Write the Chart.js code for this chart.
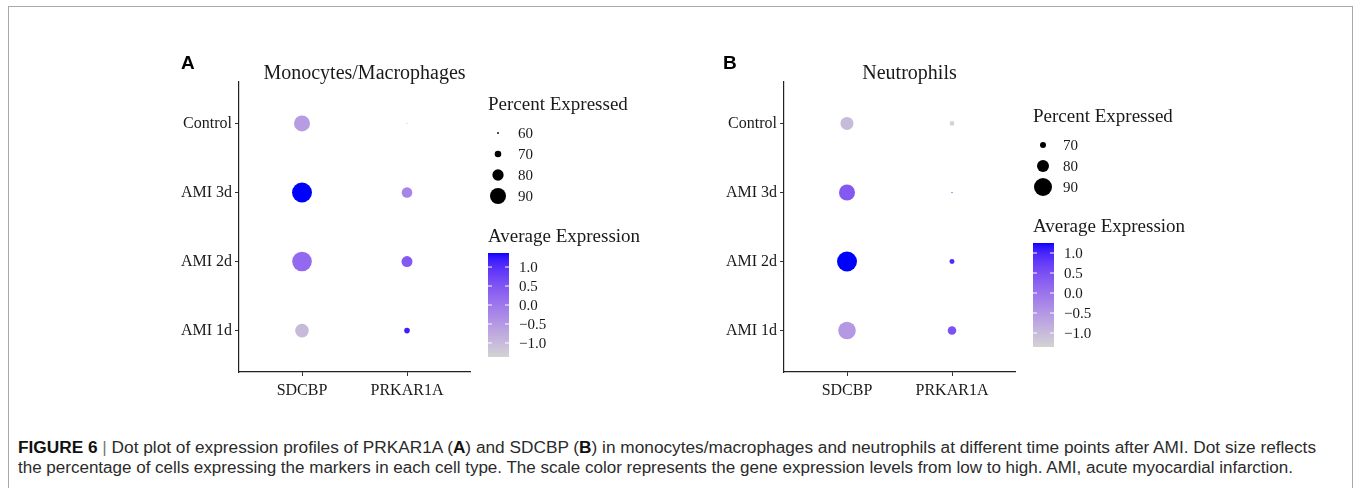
<!DOCTYPE html>
<html lang="en">
<head>
  <meta charset="UTF-8" />
  <title>Figure 6 - dot plots</title>
  <script src="https://cdn.jsdelivr.net/npm/chart.js"></script>
  <style>
    body {
      margin: 0;
      width: 1356px;
      height: 488px;
      position: relative;
      overflow: hidden;
      background: #fff;
      font-family: 'Liberation Serif', serif;
    }
    .frame {
      position: absolute;
      left: 8px; top: 6px;
      width: 1343px; height: 520px;
      border: 1px solid #a8a8a8;
    }
    .panel { position: absolute; top: 40px; width: 520px; height: 372px; }
    #panelA { left: 160px; }
    #panelB { left: 705px; }
    .caption {
      position: absolute;
      left: 18px;
      font-family: 'Liberation Sans Narrow', 'Liberation Sans', Arial, sans-serif;
      font-size: 16px;
      line-height: 20px;
      color: #2b2b2b;
      white-space: nowrap;
      transform-origin: 0 0;
    }
    #cap1 { top: 438px; }
    #cap2 { top: 458px; }
    .caption b { color: #111; }
    .sep { color: #777; }
  </style>
</head>
<body>
  <div class="frame"></div>
  <div class="panel" id="panelA"><canvas id="chartA"></canvas></div>
  <div class="panel" id="panelB"><canvas id="chartB"></canvas></div>
  <div class="caption" id="cap1"><b>FIGURE 6</b> <span class="sep">|</span> Dot plot of expression profiles of PRKAR1A (<b>A</b>) and SDCBP (<b>B</b>) in monocytes/macrophages and neutrophils at different time points after AMI. Dot size reflects</div>
  <div class="caption" id="cap2">the percentage of cells expressing the markers in each cell type. The scale color represents the gene expression levels from low to high. AMI, acute myocardial infarction.</div>

  <script>
    // groups listed top to bottom, genes left to right
    const groups = ['Control', 'AMI 3d', 'AMI 2d', 'AMI 1d']
    const genes = ['SDCBP', 'PRKAR1A']

    // Monocytes/Macrophages (percent expressed, scaled average expression)
    const monoPctSDCBP = [90, 98.5, 97.7, 85]
    const monoPctPRKAR1A = [59, 78.5, 79.4, 68]
    const monoExpSDCBP = [-0.55, 1.37, 0.19, -1.02]
    const monoExpPRKAR1A = [-1.37, -0.19, 0.44, 1.18]

    // Neutrophils
    const neutPctSDCBP = [81.7, 86.7, 93.3, 89.3]
    const neutPctPRKAR1A = [67.7, 62.7, 68.3, 74.3]
    const neutExpSDCBP = [-1.01, 0.37, 1.25, -0.52]
    const neutExpPRKAR1A = [-1.35, -0.06, 0.94, 0.47]

    const monoSizeBreaks = [60, 70, 80, 90]
    const neutSizeBreaks = [70, 80, 90]
    const colorBreaks = [1.0, 0.5, 0.0, -0.5, -1.0]

    const LOW = [211, 211, 211]   // lightgrey
    const HIGH = [0, 0, 255]      // blue

    // ggplot style gradient, interpolated in Lab space
    function toLin(c) { c /= 255; return c <= 0.04045 ? c / 12.92 : Math.pow((c + 0.055) / 1.055, 2.4) }
    function fromLin(c) {
      const v = c <= 0.0031308 ? 12.92 * c : 1.055 * Math.pow(c, 1 / 2.4) - 0.055
      return Math.round(Math.max(0, Math.min(1, v)) * 255)
    }
    function rgbToLab([r, g, b]) {
      const R = toLin(r), G = toLin(g), B = toLin(b)
      const x = (0.4124 * R + 0.3576 * G + 0.1805 * B) / 0.95047
      const y = 0.2126 * R + 0.7152 * G + 0.0722 * B
      const z = (0.0193 * R + 0.1192 * G + 0.9505 * B) / 1.08883
      const f = t => t > 0.008856 ? Math.cbrt(t) : 7.787 * t + 16 / 116
      const fx = f(x), fy = f(y), fz = f(z)
      return [116 * fy - 16, 500 * (fx - fy), 200 * (fy - fz)]
    }
    function labToRgb([L, a, b]) {
      const fy = (L + 16) / 116, fx = fy + a / 500, fz = fy - b / 200
      const fi = t => t > 0.206893 ? t * t * t : (t - 16 / 116) / 7.787
      const x = fi(fx) * 0.95047, y = fi(fy), z = fi(fz) * 1.08883
      return [
        fromLin(3.2406 * x - 1.5372 * y - 0.4986 * z),
        fromLin(-0.9689 * x + 1.8758 * y + 0.0415 * z),
        fromLin(0.0557 * x - 0.2040 * y + 1.0570 * z)
      ]
    }
    const labLow = rgbToLab(LOW), labHigh = rgbToLab(HIGH)
    function gradient(v, lo, hi) {
      const t = Math.max(0, Math.min(1, (v - lo) / (hi - lo)))
      if (t >= 1) return 'rgb(0,0,255)'
      const c = labToRgb(labLow.map((l, i) => l + (labHigh[i] - l) * t))
      return `rgb(${c[0]},${c[1]},${c[2]})`
    }

    const fmt = v => (v < 0 ? '\u2212' : '') + Math.abs(v).toFixed(1)

    const decorPlugin = {
      id: 'decor',
      afterDraw(chart, args, o) {
        const ctx = chart.ctx
        const area = chart.chartArea
        ctx.save()
        ctx.fillStyle = '#000'
        ctx.textBaseline = 'middle'

        ctx.font = 'bold 19px "Liberation Sans", Arial, sans-serif'
        ctx.textAlign = 'left'
        ctx.fillText(o.letter, o.letterX, 24)

        ctx.font = '20px "Liberation Serif", serif'
        ctx.textAlign = 'center'
        ctx.fillStyle = '#1a1a1a'
        ctx.fillText(o.title, (area.left + area.right) / 2 + 10, 34)

        const lx = area.right + 18
        ctx.textAlign = 'left'
        ctx.font = '19px "Liberation Serif", serif'
        ctx.fillText('Percent Expressed', lx, o.sizeTop)
        ctx.font = '15px "Liberation Serif", serif'
        o.sizeBreaks.forEach((p, i) => {
          const y = o.sizeTop + 28 + i * 21
          ctx.fillStyle = '#000'
          ctx.beginPath()
          ctx.arc(lx + 10, y, Math.max(0.7, o.radius(p)), 0, Math.PI * 2)
          ctx.fill()
          ctx.fillStyle = '#1a1a1a'
          ctx.fillText(String(p), lx + 30, y + 1)
        })

        ctx.font = '19px "Liberation Serif", serif'
        ctx.fillText('Average Expression', lx, o.colorTop)
        const barTop = o.colorTop + 16, barH = 104, barW = 21
        for (let i = 0; i < barH; i++) {
          const v = o.hi - (i + 0.5) / barH * (o.hi - o.lo)
          ctx.fillStyle = gradient(v, o.lo, o.hi)
          ctx.fillRect(lx, barTop + i, barW, 1)
        }
        ctx.font = '15px "Liberation Serif", serif'
        colorBreaks.forEach(v => {
          const y = barTop + (o.hi - v) / (o.hi - o.lo) * barH
          ctx.strokeStyle = '#fff'
          ctx.lineWidth = 1
          ctx.beginPath()
          ctx.moveTo(lx, y); ctx.lineTo(lx + 4, y)
          ctx.moveTo(lx + barW - 4, y); ctx.lineTo(lx + barW, y)
          ctx.stroke()
          ctx.fillStyle = '#1a1a1a'
          ctx.fillText(fmt(v), lx + 31, y + 1)
        })
        ctx.restore()
      }
    }

    function makePanel(canvasId, cfg) {
      const all = cfg.exp.flat()
      const lo = Math.min(...all), hi = Math.max(...all)
      const radius = p => cfg.k * (p - cfg.p0)
      const tickFont = { family: '"Liberation Serif", serif', size: 16 }

      const datasets = genes.map((g, gi) => ({
        label: g,
        data: groups.map((grp, i) => ({
          x: gi, y: i, r: Math.max(0.6, radius(cfg.pct[gi][i])), v: cfg.exp[gi][i]
        })),
        backgroundColor: ctx => gradient(ctx.raw ? ctx.raw.v : 0, lo, hi),
        borderWidth: 0,
        hoverBorderWidth: 0,
        hoverRadius: 0
      }))

      const axis = (labels, fit) => ({
        type: 'linear',
        min: -0.6,
        max: labels.length - 0.4,
        afterBuildTicks: s => { s.ticks = labels.map((l, i) => ({ value: i })) },
        afterFit: fit,
        ticks: {
          callback: v => labels[v],
          font: tickFont,
          color: '#1a1a1a',
          autoSkip: false,
          maxRotation: 0
        },
        grid: { drawOnChartArea: false, drawTicks: true, tickLength: 4, color: '#333', tickColor: '#333' },
        border: { display: true, color: '#222', width: 1.2 }
      })

      const xAxis = axis(genes, s => { s.height = 40 })
      xAxis.ticks.padding = 5
      const yAxis = axis(groups, s => { s.width = 79 })
      yAxis.reverse = true
      yAxis.ticks.padding = 3

      return new Chart(document.getElementById(canvasId), {
        type: 'bubble',
        data: { datasets },
        options: {
          responsive: true,
          maintainAspectRatio: false,
          animation: false,
          events: [],
          layout: { padding: { top: 42, right: 210, left: 0, bottom: 0 } },
          scales: { x: xAxis, y: yAxis },
          plugins: {
            legend: { display: false },
            tooltip: { enabled: false },
            decor: {
              letter: cfg.letter, letterX: cfg.letterX, title: cfg.title,
              sizeBreaks: cfg.sizeBreaks, sizeTop: cfg.sizeTop, colorTop: cfg.colorTop,
              radius, lo, hi
            }
          }
        },
        plugins: [decorPlugin]
      })
    }

    makePanel('chartA', {
      letter: 'A', letterX: 21, title: 'Monocytes/Macrophages',
      pct: [monoPctSDCBP, monoPctPRKAR1A], exp: [monoExpSDCBP, monoExpPRKAR1A],
      p0: 56, k: 0.235, sizeBreaks: monoSizeBreaks, sizeTop: 65, colorTop: 197
    })
    makePanel('chartB', {
      letter: 'B', letterX: 18, title: 'Neutrophils',
      pct: [neutPctSDCBP, neutPctPRKAR1A], exp: [neutExpSDCBP, neutExpPRKAR1A],
      p0: 60, k: 0.3, sizeBreaks: neutSizeBreaks, sizeTop: 77, colorTop: 187
    })

    // stretch caption lines to the width they take in the figure
    function fitCaption(id, target) {
      const el = document.getElementById(id)
      el.style.transform = 'none'
      const w = el.getBoundingClientRect().width
      el.style.transform = `scaleX(${target / w})`
    }
    fitCaption('cap1', 1298)
    fitCaption('cap2', 1275)
  </script>
</body>
</html>
